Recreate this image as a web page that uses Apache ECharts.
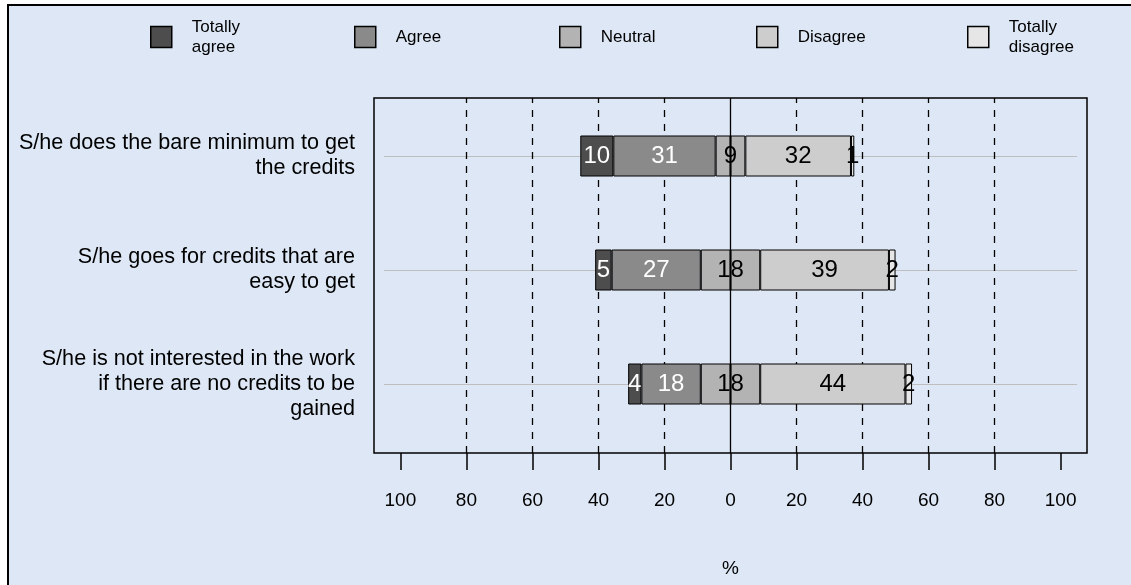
<!DOCTYPE html>
<html>
<head>
<meta charset="utf-8">
<script src="https://cdn.jsdelivr.net/npm/echarts@6/dist/echarts.min.js"></script>
<style>
html,body{margin:0;padding:0;background:#fff;}
#chart{width:1131px;height:585px;}
</style>
</head>
<body>
<div id="chart"></div>
<script>
// ---- data ----
var categories = [
  "S/he does the bare minimum to get\nthe credits",
  "S/he goes for credits that are\neasy to get",
  "S/he is not interested in the work\nif there are no credits to be\ngained"
];
var totallyAgree    = [10, 5, 4];
var agree           = [31, 27, 18];
var neutral         = [9, 18, 18];
var disagree        = [32, 39, 44];
var totallyDisagree = [1, 2, 2];
var xTicks = [-100, -80, -60, -40, -20, 0, 20, 40, 60, 80, 100];
var dashedAt = [-80, -60, -40, -20, 20, 40, 60, 80];
var legendNames = ["Totally agree", "Agree", "Neutral", "Disagree", "Totally disagree"];
var legendLabels = ["Totally\nagree", "Agree", "Neutral", "Disagree", "Totally\ndisagree"];

var FONT = "'Liberation Sans', Arial, sans-serif";
var colors = {
  "Totally agree": "#4d4d4d",
  "Agree": "#8a8a8a",
  "Neutral": "#b3b3b3",
  "Disagree": "#cdcdcd",
  "Totally disagree": "#e6e6e6"
};

var chart = echarts.init(document.getElementById('chart'), null, {renderer: 'canvas'});

function barSeries(name, values, sign, labelColor, extraLabel) {
  var lbl = {
    show: true,
    position: 'inside',
    color: labelColor,
    fontSize: 24,
    fontFamily: FONT,
    formatter: function (p) { return String(values[p.dataIndex]); }
  };
  if (extraLabel) { Object.assign(lbl, extraLabel); }
  return {
    name: name,
    type: 'bar',
    xAxisIndex: 1,
    yAxisIndex: 1,
    stack: 'likert',
    barWidth: 41,
    z: 3,
    itemStyle: {color: colors[name], borderColor: '#000', borderWidth: 1},
    label: lbl,
    emphasis: {disabled: true},
    data: values.map(function (v) { return sign * v; })
  };
}

var neutralHalf = neutral.map(function (v) { return v / 2; });

var series = [
  Object.assign(barSeries('Neutral', neutralHalf, -1, '#000'), {label: {show: false}}),
  barSeries('Agree', agree, -1, '#fff'),
  barSeries('Totally agree', totallyAgree, -1, '#fff'),
  barSeries('Neutral', neutralHalf, 1, '#000', {
    position: [0, '50%'], align: 'center', verticalAlign: 'middle',
    formatter: function (p) { return String(neutral[p.dataIndex]); }
  }),
  barSeries('Disagree', disagree, 1, '#000'),
  barSeries('Totally disagree', totallyDisagree, 1, '#000'),
  {
    type: 'line', xAxisIndex: 1, yAxisIndex: 1, data: [], z: 1, silent: true,
    markLine: {
      z: 1, silent: true, symbol: 'none', label: {show: false}, animation: false,
      lineStyle: {color: '#bebebe', type: 'solid', width: 1.2},
      data: categories.map(function (c) { return [{coord: [-105, c]}, {coord: [105, c]}]; })
    }
  },
  {
    type: 'line', xAxisIndex: 0, yAxisIndex: 0, data: [], z: 1, silent: true,
    markLine: {
      z: 1, silent: true, symbol: 'none', label: {show: false}, animation: false,
      lineStyle: {color: '#000', type: [7, 7], width: 1.3},
      data: dashedAt.map(function (v) { return {xAxis: v}; })
    }
  },
  {
    type: 'line', xAxisIndex: 0, yAxisIndex: 0, data: [], z: 10, silent: true,
    markLine: {
      z: 10, silent: true, symbol: 'none', label: {show: false}, animation: false,
      lineStyle: {color: '#000', type: 'solid', width: 1.3},
      data: [{xAxis: 0}]
    }
  }
];

var legendLeft = [150, 354, 559, 756, 967];
var legends = legendNames.map(function (n, i) {
  var twoLine = legendLabels[i].indexOf('\n') >= 0;
  return {
    data: [n],
    left: legendLeft[i],
    top: twoLine ? 11 : 21,
    padding: 0,
    icon: 'rect',
    itemWidth: 21,
    itemHeight: 21,
    selectedMode: false,
    itemStyle: {borderColor: '#000', borderWidth: 1.5},
    formatter: function () { return legendLabels[i]; },
    textStyle: {
      fontSize: 17, fontFamily: FONT, color: '#000',
      lineHeight: 20, padding: [0, 0, 12, 15]
    }
  };
});

var option = {
  backgroundColor: '#fff',
  animation: false,
  textStyle: {fontFamily: FONT},
  graphic: [{
    type: 'rect', z: -10, silent: true,
    shape: {x: 8, y: 5, width: 1300, height: 800},
    style: {fill: '#dde7f5', stroke: '#000', lineWidth: 2}
  }],
  legend: legends,
  grid: [
    {left: 374, top: 98, width: 713, height: 355, show: true,
     borderColor: '#000', borderWidth: 1.5, backgroundColor: 'transparent'},
    {left: 374, top: 99, width: 713, height: 342, show: false}
  ],
  xAxis: [
    {
      gridIndex: 0, type: 'value', min: -108, max: 108, position: 'bottom',
      axisLine: {show: false},
      splitLine: {show: false},
      axisTick: {show: true, customValues: xTicks, length: 17, inside: false,
                 lineStyle: {color: '#000', width: 1.5}},
      axisLabel: {show: true, customValues: xTicks, margin: 38, fontSize: 19,
                  color: '#000', fontFamily: FONT,
                  formatter: function (v) { return String(Math.abs(v)); }},
      name: '%', nameLocation: 'middle', nameGap: 106,
      nameTextStyle: {fontSize: 19, color: '#000', fontFamily: FONT}
    },
    {
      gridIndex: 1, type: 'value', min: -108, max: 108, show: false,
      splitLine: {show: false}
    }
  ],
  yAxis: [
    {gridIndex: 0, type: 'value', min: 0, max: 1, show: false, splitLine: {show: false}},
    {
      gridIndex: 1, type: 'category', inverse: true, data: categories,
      axisLine: {show: false}, axisTick: {show: false}, splitLine: {show: false},
      axisLabel: {fontSize: 21.6, lineHeight: 25, color: '#000', margin: 19,
                  fontFamily: FONT, align: 'right'}
    }
  ],
  series: series
};

chart.setOption(option);
</script>
</body>
</html>
